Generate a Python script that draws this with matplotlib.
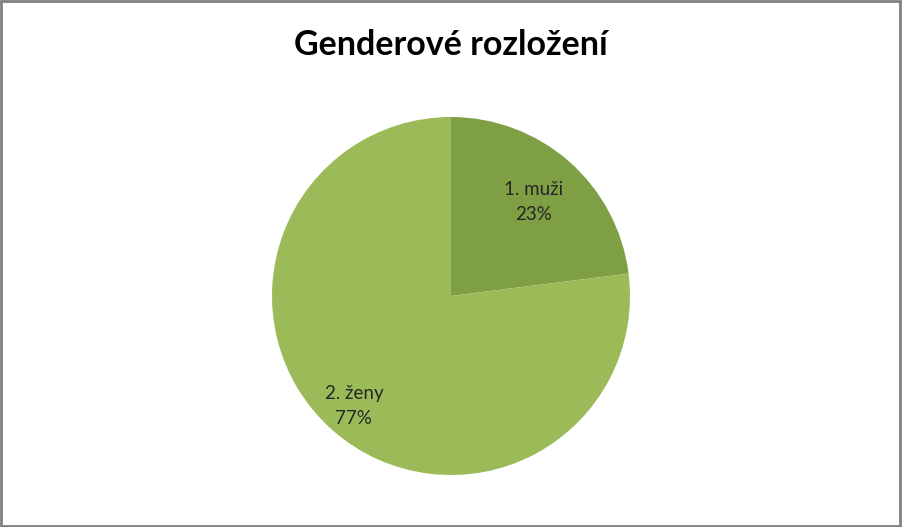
import numpy as np
import matplotlib
matplotlib.use('Agg')
import matplotlib.pyplot as plt
from matplotlib.patches import Rectangle

plt.rcParams['font.family'] = ['Lato', 'DejaVu Sans']

# data
categories = ['1. muži', '2. ženy']
shares = [23, 77]
colors = ['#7F9F45', '#9BBB59']

W, H = 902, 527
fig = plt.figure(figsize=(W / 100, H / 100), dpi=100)
fig.patch.set_facecolor('white')

# pie box in pixel units: centre (451, 296), radius 179
cx, cy, r = 451, 296, 179
ax = fig.add_axes([(cx - r) / W, (H - cy - r) / H, 2 * r / W, 2 * r / H])
wedges, _ = ax.pie(shares, colors=colors, startangle=90, counterclock=False,
                   radius=1.0, wedgeprops=dict(linewidth=0))
ax.set_xlim(-1, 1)
ax.set_ylim(-1, 1)
ax.set_aspect('auto')
ax.axis('off')

# labels inside slices
label_r = [0.70, 0.82]
for w, cat, val, lr in zip(wedges, categories, shares, label_r):
    ang = np.deg2rad((w.theta1 + w.theta2) / 2)
    ax.text(lr * np.cos(ang), lr * np.sin(ang), f'{cat}\n{val}%',
            ha='center', va='center', fontsize=13.5, color='#262626',
            linespacing=1.55)

fig.text(0.5, 1 - 45 / H, 'Genderové rozložení', ha='center', va='center',
         fontsize=24.5, fontweight='bold', color='black')

# outer frame
fig.patches.append(Rectangle((0.001, 0.002), 0.997, 0.996, transform=fig.transFigure,
                             fill=False, edgecolor='#808080', linewidth=2))

fig.savefig('out.png', dpi=100, facecolor='white')
